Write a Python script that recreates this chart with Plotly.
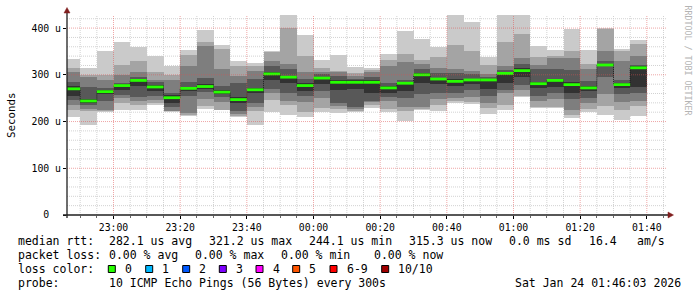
import plotly.graph_objects as go
import pandas as pd

# ---------------- data ----------------
bar_end = pd.date_range("2026-01-23 22:50", periods=35, freq="5min")
x_range = ["2026-01-23 22:46:03", "2026-01-24 01:46:03"]

# sorted ping rtts (us) for each 5-minute step, rank 1 (fastest) .. rank 10 (slowest)
ping_1 = [209,192,221,225,225,236,220,212,227,224,209,193,220,213,209,220,218,220,230,220,202,224,223,240,238,217,225,252,230,228,207,220,213,204,212]
ping_2 = [225,222,223,240,236,240,222,214,234,225,212,222,247,236,220,230,227,222,236,227,222,227,235,243,241,228,235,254,232,232,215,227,233,225,233]
ping_3 = [236,227,224,250,243,247,223,218,248,241,216,232,261,243,241,250,234,226,241,245,231,231,248,250,252,240,261,268,245,249,225,240,260,241,243]
ping_4 = [247,236,245,257,252,254,232,255,264,252,223,240,270,261,254,265,240,232,245,252,250,259,262,262,268,254,268,279,255,261,249,250,295,258,262]
ping_5 = [254,240,258,268,276,266,240,265,270,258,240,262,288,283,265,280,268,270,262,262,266,282,280,276,280,270,282,296,272,275,262,265,318,272,275]
ping_6 = [276,248,268,280,290,278,256,275,280,267,253,272,306,298,282,296,288,288,288,276,284,304,294,290,292,292,306,314,284,292,284,276,324,282,318]
ping_7 = [284,274,272,282,296,284,262,285,294,277,282,292,318,312,292,302,297,292,295,282,288,312,304,304,302,295,310,324,313,313,311,286,330,288,322]
ping_8 = [306,296,288,300,306,289,289,319,362,313,297,309,329,324,305,307,305,297,307,318,327,324,314,313,309,302,318,336,322,336,336,313,352,329,341]
ping_9 = [314,300,299,320,330,305,300,342,370,355,318,319,348,400,341,314,309,304,311,331,345,331,339,363,350,320,371,388,339,341,350,323,398,350,366]
ping_10 = [334,315,351,371,359,341,318,354,396,364,330,325,351,428,386,332,343,316,315,345,394,377,359,428,412,339,428,428,362,354,399,354,400,356,375]
median = [270,244,264,277,288,274,251,271,275,263,247,268,302,295,277,293,284,284,284,272,282,300,291,286,289,289,303,309,281,288,279,272,321,279,315]

y_tickvals = [0, 100, 200, 300, 400]
y_ticktext = ["0\u00a0\u00a0", "100\u00a0u", "200\u00a0u", "300\u00a0u", "400\u00a0u"]

loss_labels = ["0", "1", "2", "3", "4", "5", "6-9", "10/10"]
loss_colors = ["#26ff00", "#00b8ff", "#0059ff", "#7e00ff", "#ff00ff", "#ff5500", "#ff0000", "#a10000"]

stats_line1 = ["median rtt:", "282.1 us avg", "321.2 us max", "244.1 us min", "315.3 us now", "0.0 ms sd", "16.4", "am/s"]
stats_line2 = ["packet loss:", "0.00 % avg", "0.00 % max", "0.00 % min", "0.00 % now"]
probe_text = "10 ICMP Echo Pings (56 Bytes) every 300s"
stamp_text = "Sat Jan 24 01:46:03 2026"

# ---------------- geometry ----------------
W, H = 697, 297
L, T = 67, 15
PW, PH = 600, 200
R, B = W - L - PW, H - T - PH
YMAX = 428
STEP_MS = 300000
MONO = "DejaVu Sans Mono"


def px(xp):
    return (xp - L) / PW


def py(yp):
    return (T + PH - yp) / PH


centers = [t - pd.Timedelta(seconds=150) for t in bar_end]
starts = [t - pd.Timedelta(minutes=5) for t in bar_end]

fig = go.Figure()

layers = [
    (ping_1, ping_10, "#cacaca"),
    (ping_2, ping_9, "#a4a4a4"),
    (ping_3, ping_8, "#7e7e7e"),
    (ping_4, ping_7, "#585858"),
    (ping_5, ping_6, "#323232"),
]
for lo, hi, col in layers:
    fig.add_trace(go.Bar(
        x=centers, y=[h - l for l, h in zip(lo, hi)], base=lo,
        width=STEP_MS, marker=dict(color=col, line=dict(width=0)),
        hoverinfo="skip", showlegend=False))

# median step line (dark, dotted)
fig.add_trace(go.Scatter(
    x=starts + [bar_end[-1]], y=median + [median[-1]],
    mode="lines", line=dict(color="#202020", width=1, shape="hv", dash="1px,1px"),
    hoverinfo="skip", showlegend=False))

# loss-coloured median segments
seg_x, seg_y = [], []
for s, e, m in zip(starts, bar_end, median):
    seg_x += [s, e, None]
    seg_y += [m, m, None]
fig.add_trace(go.Scatter(
    x=seg_x, y=seg_y, mode="lines", connectgaps=False,
    line=dict(color=loss_colors[0], width=2.8),
    hoverinfo="skip", showlegend=False))

shapes = []
MINOR = dict(color="#d2d2d2", width=1, dash="1px,1px")
MAJOR = dict(color="rgba(224,80,80,0.5)", width=1, dash="1px,1px")
t = pd.Timestamp("2026-01-23 22:50")
t_end = pd.Timestamp(x_range[1])
while t <= t_end:
    major = (t.minute % 20 == 0)
    shapes.append(dict(type="line", xref="x", yref="paper", x0=t, x1=t, y0=0, y1=1,
                       line=MAJOR if major else MINOR, layer="above" if major else "below"))
    t += pd.Timedelta(minutes=5)
for v in range(20, YMAX, 20):
    major = (v % 100 == 0)
    shapes.append(dict(type="line", xref="paper", yref="y", x0=0, x1=1, y0=v, y1=v,
                       line=MAJOR if major else MINOR, layer="above" if major else "below"))

# axes with arrows
shapes.append(dict(type="line", xref="paper", yref="paper", x0=px(63), x1=px(671), y0=0, y1=0,
                   line=dict(color="#1f1f1f", width=1.3), layer="above"))
shapes.append(dict(type="line", xref="paper", yref="paper", x0=0, x1=0, y0=py(218), y1=py(11),
                   line=dict(color="#1f1f1f", width=1.3), layer="above"))
shapes.append(dict(type="path", xref="paper", yref="paper",
                   path=f"M {px(64)} {py(13)} L {px(70)} {py(13)} L {px(67)} {py(7.5)} Z",
                   fillcolor="#801f1f", line=dict(color="#801f1f", width=0.5), layer="above"))
shapes.append(dict(type="path", xref="paper", yref="paper",
                   path=f"M {px(668)} {py(212)} L {px(668)} {py(218)} L {px(673.5)} {py(215)} Z",
                   fillcolor="#801f1f", line=dict(color="#801f1f", width=0.5), layer="above"))

annotations = []


def text(s, x, y, size=11.5, color="#000000", xanchor="left", angle=0):
    annotations.append(dict(text=s.replace(" ", "\u00a0"), x=px(x), y=py(y), xref="paper", yref="paper",
                            xanchor=xanchor, yanchor="middle", showarrow=False, textangle=angle,
                            font=dict(family=MONO, size=size, color=color)))


# legend rows
line1_x = [16, 107.3, 207.3, 307.3, 406.7, 506.7, 586.7, 635]
for s, x in zip(stats_line1, line1_x):
    text(s, x, 241.0)
line2_x = [16, 107.3, 193.3, 279.3, 371.7]
for s, x in zip(stats_line2, line2_x):
    text(s, x, 255.0)
text("loss color:", 16, 269.0)
box_x = [108.3, 145.7, 182.7, 219.3, 256.0, 292.7, 330.0, 381.7]
for lab, col, bx in zip(loss_labels, loss_colors, box_x):
    shapes.append(dict(type="rect", xref="paper", yref="paper",
                       x0=px(bx), x1=px(bx + 7), y0=py(272.5), y1=py(265.5),
                       fillcolor=col, line=dict(color="#000000", width=1)))
    text(lab, bx + 14.6, 269.0)
text("probe:", 16, 283.3)
text(probe_text, 107.3, 283.3)
text(stamp_text, 513.3, 283.3)

# y axis title and watermark
text("Seconds", 11, 115, size=10.8, xanchor="center", angle=-90)
text("RRDTOOL / TOBI OETIKER", 687.5, 60, size=8.3, color="#b4b4b4", xanchor="center", angle=90)

fig.update_layout(
    width=W, height=H,
    margin=dict(l=L, r=R, t=T, b=B, pad=0),
    paper_bgcolor="#ffffff", plot_bgcolor="#ffffff",
    barmode="overlay", bargap=0, showlegend=False,
    shapes=shapes, annotations=annotations,
    xaxis=dict(type="date", range=x_range, showgrid=False, zeroline=False, showline=False,
               tickformat="%H:%M", tick0="2026-01-23 23:00", dtick=20 * 60 * 1000,
               ticks="outside", ticklen=3, tickcolor="#000000",
               minor=dict(ticks="outside", ticklen=2, dtick=STEP_MS, tickcolor="#666666", showgrid=False),
               tickfont=dict(family=MONO, size=9.8, color="#000000"), fixedrange=True),
    yaxis=dict(range=[0, YMAX], showgrid=False, zeroline=False, showline=False,
               tickvals=y_tickvals, ticktext=y_ticktext,
               ticks="outside", ticklen=3, tickcolor="#000000",
               tickfont=dict(family=MONO, size=9.8, color="#000000"), fixedrange=True),
)

fig.write_html("out.html")
